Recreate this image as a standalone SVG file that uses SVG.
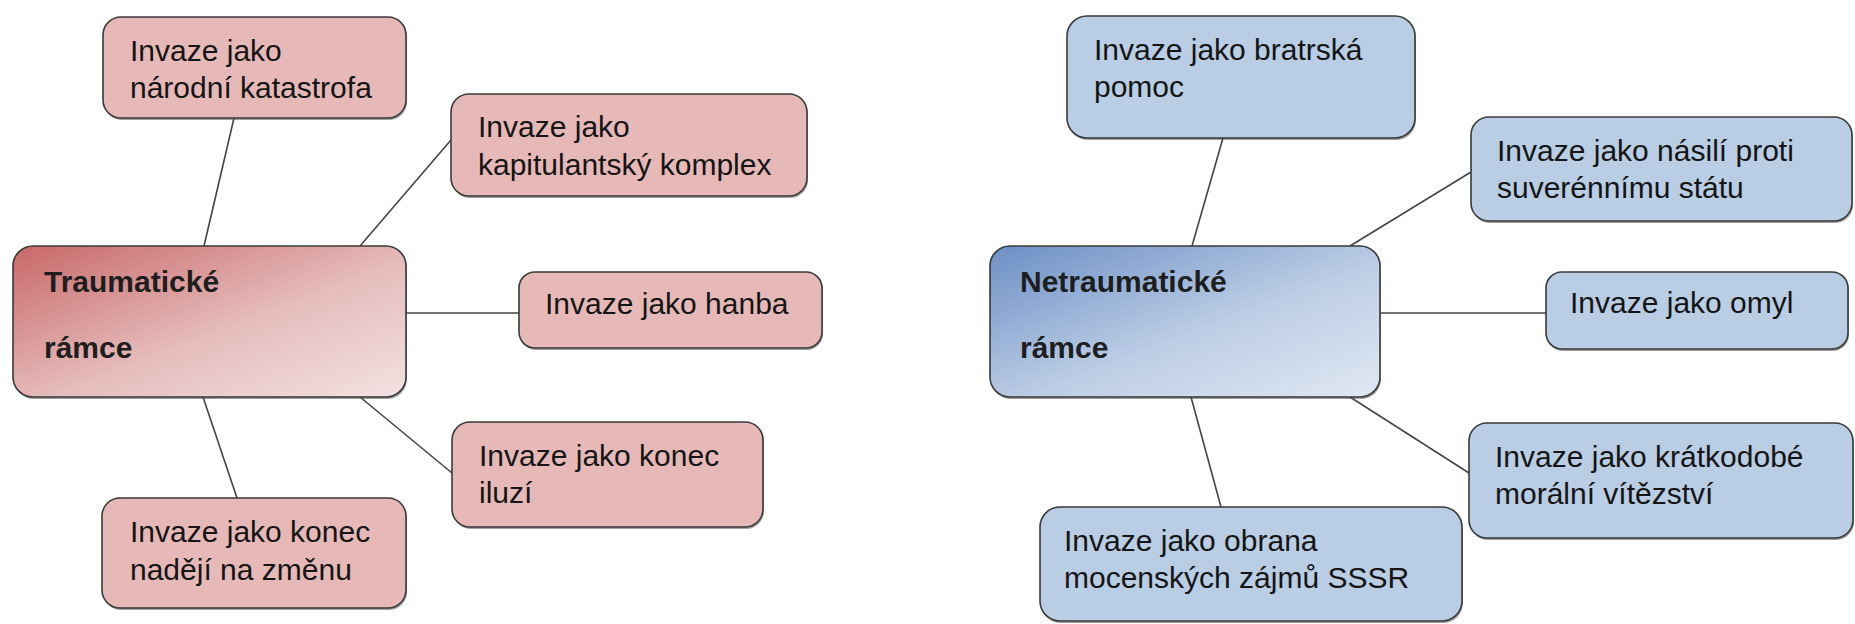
<svg xmlns="http://www.w3.org/2000/svg" width="1855" height="624" viewBox="0 0 1855 624">
<style>
.box{stroke:#3a3a3a;stroke-width:1.6}
.pink{fill:#e6b9b8}
.blue{fill:#b9cde5}
.sh{fill:#555;opacity:0.55}
.t{font-family:"Liberation Sans",Arial,sans-serif;font-size:30px;fill:#151515}
.b{font-family:"Liberation Sans",Arial,sans-serif;font-size:30px;font-weight:bold;fill:#1e1e1e}
.con line{stroke:#454545;stroke-width:1.6}
</style>
<defs>
<linearGradient id="gr" x1="0" y1="0" x2="1" y2="1">
<stop offset="0" stop-color="#c86868"/>
<stop offset="0.55" stop-color="#e6bcbc"/>
<stop offset="1" stop-color="#f3e2e2"/>
</linearGradient>
<linearGradient id="gb" x1="0" y1="0" x2="1" y2="1">
<stop offset="0" stop-color="#6b8fc5"/>
<stop offset="0.55" stop-color="#bccde5"/>
<stop offset="1" stop-color="#e0e8f3"/>
</linearGradient>
</defs>
<rect width="1855" height="624" fill="#ffffff"/>
<g id="connectors" class="con">
<line x1="234" y1="118" x2="204" y2="246"/>
<line x1="451" y1="140" x2="360" y2="246"/>
<line x1="406" y1="313" x2="519" y2="313"/>
<line x1="360" y1="397" x2="452" y2="473"/>
<line x1="203" y1="397" x2="237" y2="498"/>
<line x1="1223" y1="138" x2="1192" y2="246"/>
<line x1="1471" y1="172" x2="1350" y2="246"/>
<line x1="1380" y1="313" x2="1546" y2="313"/>
<line x1="1350" y1="397" x2="1469" y2="473"/>
<line x1="1191" y1="397" x2="1221" y2="507"/>
</g>
<g id="traumaticke">
<rect class="sh" x="14" y="248" width="393" height="151" rx="20"/>
<rect class="box" x="13" y="246" width="393" height="151" rx="20" fill="url(#gr)"/>
<text class="b" x="44" y="292">Traumatické</text>
<text class="b" x="44" y="358">rámce</text>
</g>
<g id="narodni-katastrofa">
<rect class="sh" x="104" y="19" width="303" height="101" rx="18"/>
<rect class="box pink" x="103" y="17" width="303" height="101" rx="18"/>
<text class="t" x="130" y="61">Invaze jako</text>
<text class="t" x="130" y="98">národní katastrofa</text>
</g>
<g id="kapitulantsky-komplex">
<rect class="sh" x="452" y="96" width="356" height="102" rx="18"/>
<rect class="box pink" x="451" y="94" width="356" height="102" rx="18"/>
<text class="t" x="478" y="137">Invaze jako</text>
<text class="t" x="478" y="175">kapitulantský komplex</text>
</g>
<g id="hanba">
<rect class="sh" x="520" y="274" width="303" height="76" rx="16"/>
<rect class="box pink" x="519" y="272" width="303" height="76" rx="16"/>
<text class="t" x="545" y="314">Invaze jako hanba</text>
</g>
<g id="konec-iluzi">
<rect class="sh" x="453" y="424" width="311" height="105" rx="18"/>
<rect class="box pink" x="452" y="422" width="311" height="105" rx="18"/>
<text class="t" x="479" y="466">Invaze jako konec</text>
<text class="t" x="479" y="503">iluzí</text>
</g>
<g id="konec-nadeji">
<rect class="sh" x="103" y="500" width="304" height="110" rx="18"/>
<rect class="box pink" x="102" y="498" width="304" height="110" rx="18"/>
<text class="t" x="130" y="542">Invaze jako konec</text>
<text class="t" x="130" y="580">nadějí na změnu</text>
</g>
<g id="netraumaticke">
<rect class="sh" x="991" y="248" width="390" height="151" rx="20"/>
<rect class="box" x="990" y="246" width="390" height="151" rx="20" fill="url(#gb)"/>
<text class="b" x="1020" y="292">Netraumatické</text>
<text class="b" x="1020" y="358">rámce</text>
</g>
<g id="bratrska-pomoc">
<rect class="sh" x="1068" y="18" width="348" height="122" rx="20"/>
<rect class="box blue" x="1067" y="16" width="348" height="122" rx="20"/>
<text class="t" x="1094" y="60">Invaze jako bratrská</text>
<text class="t" x="1094" y="97">pomoc</text>
</g>
<g id="nasili">
<rect class="sh" x="1472" y="119" width="381" height="104" rx="18"/>
<rect class="box blue" x="1471" y="117" width="381" height="104" rx="18"/>
<text class="t" x="1497" y="161">Invaze jako násilí proti</text>
<text class="t" x="1497" y="198">suverénnímu státu</text>
</g>
<g id="omyl">
<rect class="sh" x="1547" y="274" width="302" height="77" rx="16"/>
<rect class="box blue" x="1546" y="272" width="302" height="77" rx="16"/>
<text class="t" x="1570" y="313">Invaze jako omyl</text>
</g>
<g id="kratkodobe">
<rect class="sh" x="1470" y="425" width="384" height="115" rx="18"/>
<rect class="box blue" x="1469" y="423" width="384" height="115" rx="18"/>
<text class="t" x="1495" y="467">Invaze jako krátkodobé</text>
<text class="t" x="1495" y="504">morální vítězství</text>
</g>
<g id="obrana">
<rect class="sh" x="1041" y="509" width="422" height="114" rx="20"/>
<rect class="box blue" x="1040" y="507" width="422" height="114" rx="20"/>
<text class="t" x="1064" y="551">Invaze jako obrana</text>
<text class="t" x="1064" y="588">mocenských zájmů SSSR</text>
</g>
</svg>
